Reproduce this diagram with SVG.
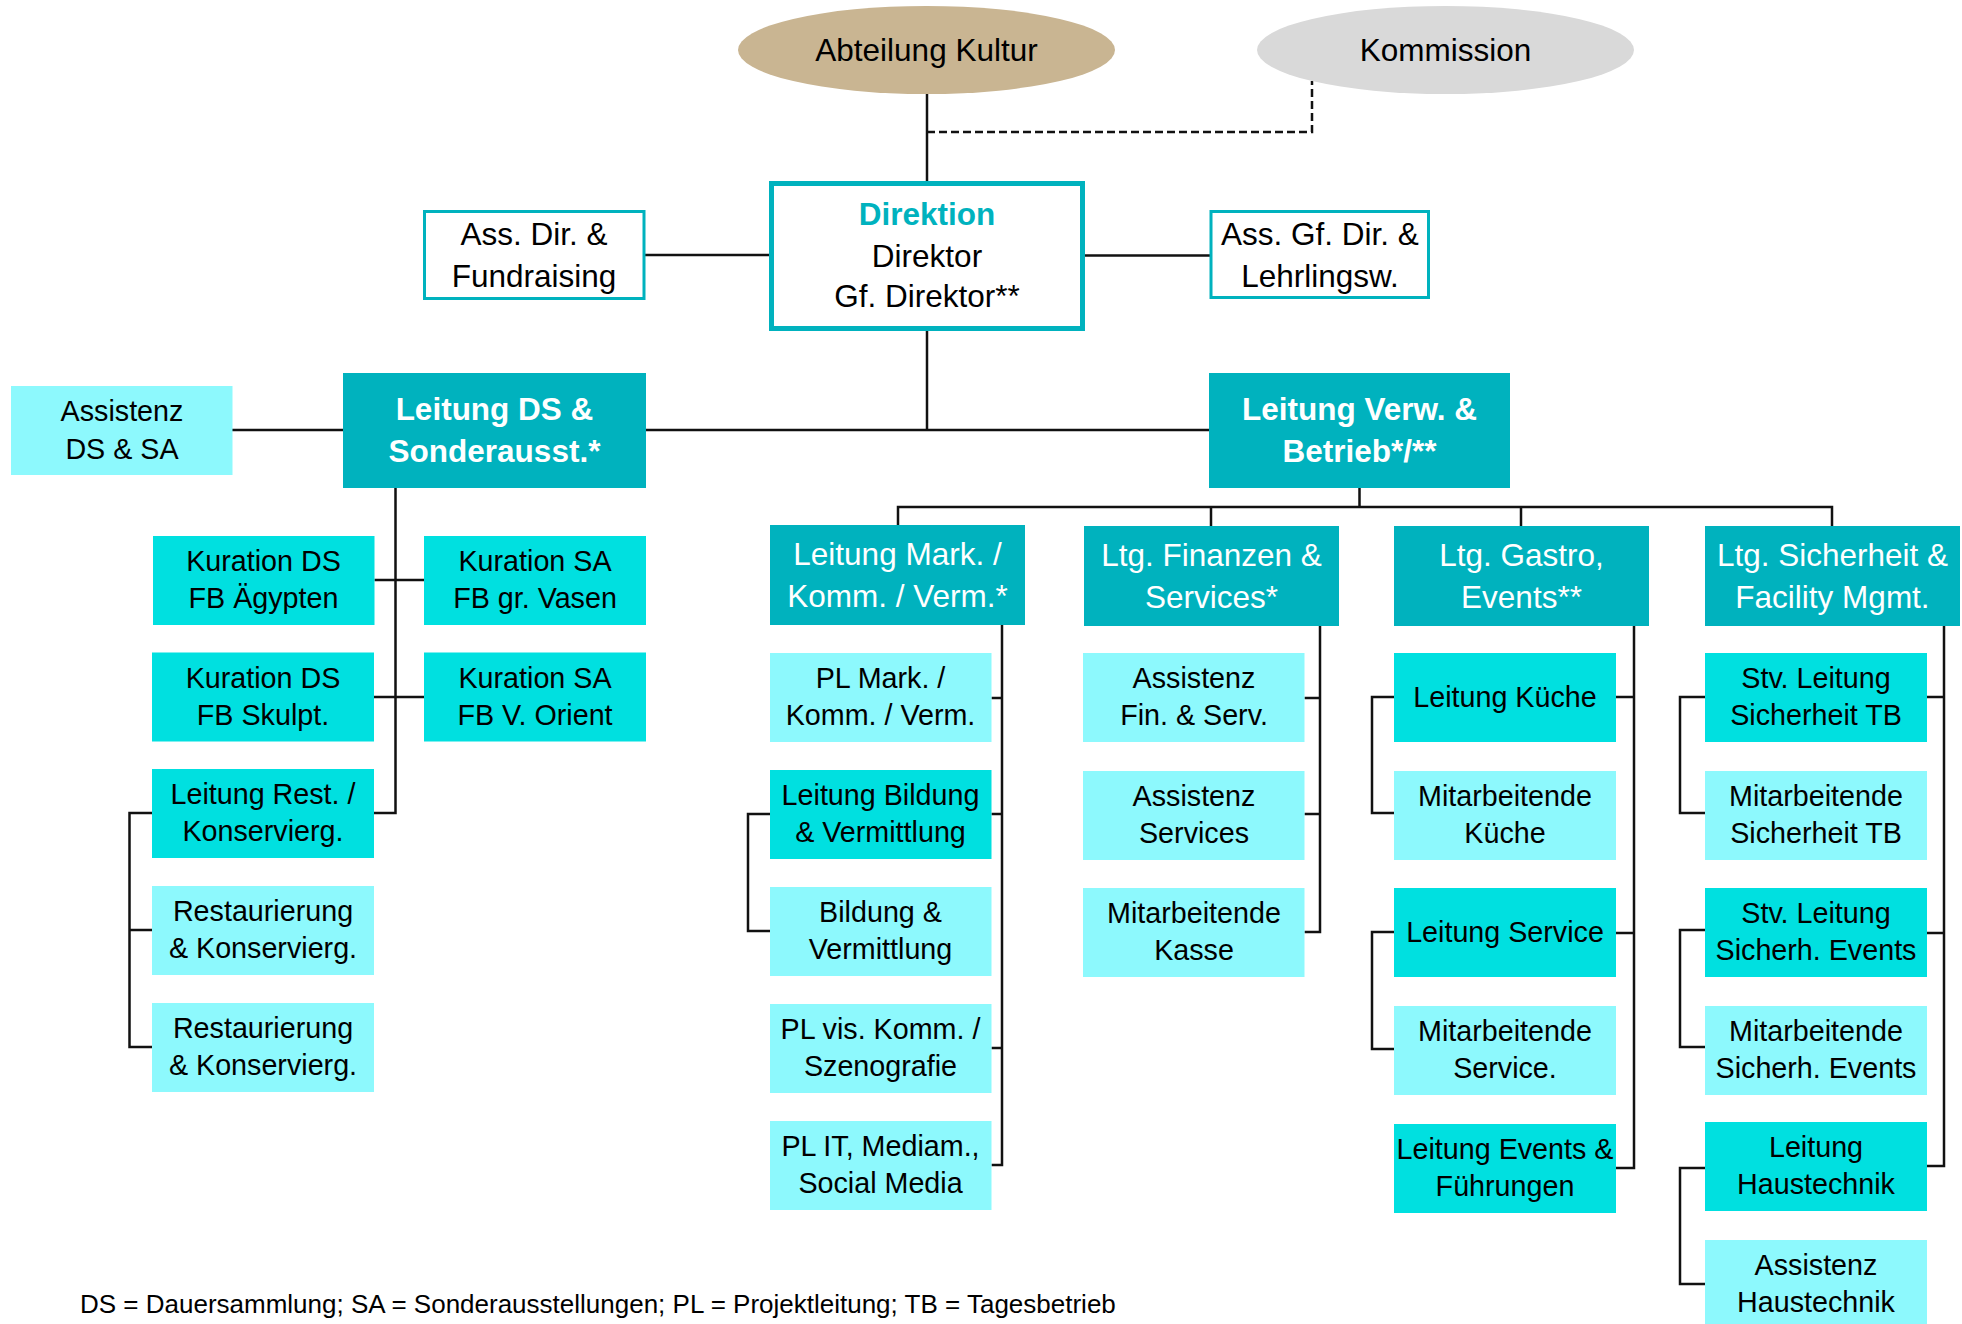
<svg xmlns="http://www.w3.org/2000/svg" width="1962" height="1324" viewBox="0 0 1962 1324">
<style>
text{font-family:"Liberation Sans",Arial,sans-serif;text-anchor:middle;fill:#000}
.h{font-size:31.5px}
.c{font-size:28.7px}
.w{fill:#fff}
.b{font-weight:bold}
.dark{fill:#00B2BE}
.med{fill:#00E0E0}
.light{fill:#8DF9FD}
.ol{fill:#fff;stroke:#00B2BE;stroke-width:3}
.ln{fill:none;stroke:#111;stroke-width:2.5}
.dash{fill:none;stroke:#111;stroke-width:2.5;stroke-dasharray:8 4}
.foot{font-size:26px;text-anchor:start}
</style>
<rect width="1962" height="1324" fill="#fff"/>
<g id="connectors">
<path class="ln" d="M927 94V181"/>
<path class="dash" d="M927 132H1312V81"/>
<path class="ln" d="M645 255H771"/>
<path class="ln" d="M1083 255.5H1211"/>
<path class="ln" d="M927 331V430"/>
<path class="ln" d="M646 430H1209"/>
<path class="ln" d="M232 430H343"/>
<path class="ln" d="M395.5 488V813H374"/>
<path class="ln" d="M374.5 580H424"/>
<path class="ln" d="M374 697H424"/>
<path class="ln" d="M152 813H129.5V1047H152M129.5 930H152"/>
<path class="ln" d="M1359.5 488V507M898 525V507H1832V526M1211 507V526M1521 507V526"/>
<path class="ln" d="M1002 625V1165H991.5M991.5 698H1002M991.5 814H1002M991.5 1048H1002"/>
<path class="ln" d="M770 814H748V931H770"/>
<path class="ln" d="M1320 626V932H1304.5M1304.5 698H1320M1304.5 814H1320"/>
<path class="ln" d="M1634 626V1168H1616M1616 697H1634M1616 933H1634"/>
<path class="ln" d="M1394 697H1372V813H1394M1394 932H1372V1049H1394"/>
<path class="ln" d="M1944 626V1166H1927M1927 697H1944M1927 933H1944"/>
<path class="ln" d="M1705 697H1680V813H1705M1705 930H1680V1047H1705M1705 1168H1680V1284H1705"/>
</g>
<g id="abteilung"><ellipse cx="926.5" cy="50" rx="188.5" ry="44" fill="#C9B592"/><text class="h" x="926.5" y="61">Abteilung Kultur</text></g>
<g id="kommission"><ellipse cx="1445.5" cy="50" rx="188.5" ry="44" fill="#D9D9D9"/><text class="h" x="1445.5" y="61">Kommission</text></g>
<g id="direktion"><rect x="771.5" y="183.5" width="311" height="145" fill="#fff" stroke="#00B2BE" stroke-width="5"/>
<text class="h b" x="927" y="225" style="fill:#00B2BE">Direktion</text><text class="h" x="927" y="267">Direktor</text><text class="h" x="927" y="307">Gf. Direktor**</text></g>
<g id="ass-dir"><rect class="ol" x="424.5" y="211.5" width="219.5" height="87"/><text class="h" x="534" y="245">Ass. Dir. &amp;</text><text class="h" x="534" y="287">Fundraising</text></g>
<g id="ass-gf"><rect class="ol" x="1211" y="211.5" width="217.5" height="86"/><text class="h" x="1320" y="245">Ass. Gf. Dir. &amp;</text><text class="h" x="1320" y="287">Lehrlingsw.</text></g>
<g id="assistenz-ds"><rect class="light" x="11" y="386" width="221.5" height="89"/><text class="c" x="122" y="421">Assistenz</text><text class="c" x="122" y="459">DS &amp; SA</text></g>
<g id="leitung-ds"><rect class="dark" x="343" y="373" width="303" height="115"/><text class="h w b" x="494.5" y="420">Leitung DS &amp;</text><text class="h w b" x="494.5" y="462">Sonderausst.*</text></g>
<g id="leitung-verw"><rect class="dark" x="1209" y="373" width="301" height="115"/><text class="h w b" x="1359.5" y="420">Leitung Verw. &amp;</text><text class="h w b" x="1359.5" y="462">Betrieb*/**</text></g>
<g id="kur-ds-1"><rect class="med" x="153" y="536" width="221.5" height="89"/><text class="c" x="263.5" y="571">Kuration DS</text><text class="c" x="263.5" y="608">FB Ägypten</text></g>
<g id="kur-sa-1"><rect class="med" x="424" y="536" width="222" height="89"/><text class="c" x="535" y="571">Kuration SA</text><text class="c" x="535" y="608">FB gr. Vasen</text></g>
<g id="kur-ds-2"><rect class="med" x="152" y="652.5" width="222" height="89"/><text class="c" x="263" y="687.5">Kuration DS</text><text class="c" x="263" y="724.5">FB Skulpt.</text></g>
<g id="kur-sa-2"><rect class="med" x="424" y="652.5" width="222" height="89"/><text class="c" x="535" y="687.5">Kuration SA</text><text class="c" x="535" y="724.5">FB V. Orient</text></g>
<g id="leitung-rest"><rect class="med" x="152" y="769" width="222" height="89"/><text class="c" x="263" y="804">Leitung Rest. /</text><text class="c" x="263" y="841">Konservierg.</text></g>
<g id="rest-1"><rect class="light" x="152" y="886" width="222" height="89"/><text class="c" x="263" y="921">Restaurierung</text><text class="c" x="263" y="958">&amp; Konservierg.</text></g>
<g id="rest-2"><rect class="light" x="152" y="1003" width="222" height="89"/><text class="c" x="263" y="1038">Restaurierung</text><text class="c" x="263" y="1075">&amp; Konservierg.</text></g>
<g id="leitung-mark"><rect class="dark" x="770" y="525" width="255" height="100"/><text class="h w" x="897.5" y="565">Leitung Mark. /</text><text class="h w" x="897.5" y="607">Komm. / Verm.*</text></g>
<g id="pl-mark"><rect class="light" x="770" y="653" width="221.5" height="89"/><text class="c" x="880.5" y="688">PL Mark. /</text><text class="c" x="880.5" y="725">Komm. / Verm.</text></g>
<g id="leitung-bildung"><rect class="med" x="770" y="770" width="221.5" height="89"/><text class="c" x="880.5" y="805">Leitung Bildung</text><text class="c" x="880.5" y="842">&amp; Vermittlung</text></g>
<g id="bildung"><rect class="light" x="770" y="887" width="221.5" height="89"/><text class="c" x="880.5" y="922">Bildung &amp;</text><text class="c" x="880.5" y="959">Vermittlung</text></g>
<g id="pl-vis"><rect class="light" x="770" y="1004" width="221.5" height="89"/><text class="c" x="880.5" y="1039">PL vis. Komm. /</text><text class="c" x="880.5" y="1076">Szenografie</text></g>
<g id="pl-it"><rect class="light" x="770" y="1121" width="221.5" height="89"/><text class="c" x="880.5" y="1156">PL IT, Mediam.,</text><text class="c" x="880.5" y="1193">Social Media</text></g>
<g id="ltg-finanzen"><rect class="dark" x="1084" y="526" width="255" height="100"/><text class="h w" x="1211.5" y="566">Ltg. Finanzen &amp;</text><text class="h w" x="1211.5" y="608">Services*</text></g>
<g id="ass-fin"><rect class="light" x="1083" y="653" width="221.5" height="89"/><text class="c" x="1194" y="688">Assistenz</text><text class="c" x="1194" y="725">Fin. &amp; Serv.</text></g>
<g id="ass-services"><rect class="light" x="1083" y="771" width="221.5" height="89"/><text class="c" x="1194" y="806">Assistenz</text><text class="c" x="1194" y="843">Services</text></g>
<g id="mit-kasse"><rect class="light" x="1083" y="888" width="221.5" height="89"/><text class="c" x="1194" y="923">Mitarbeitende</text><text class="c" x="1194" y="960">Kasse</text></g>
<g id="ltg-gastro"><rect class="dark" x="1394" y="526" width="255" height="100"/><text class="h w" x="1521.5" y="566">Ltg. Gastro,</text><text class="h w" x="1521.5" y="608">Events**</text></g>
<g id="leitung-kueche"><rect class="med" x="1394" y="653" width="222" height="89"/><text class="c" x="1505" y="707">Leitung Küche</text></g>
<g id="mit-kueche"><rect class="light" x="1394" y="771" width="222" height="89"/><text class="c" x="1505" y="806">Mitarbeitende</text><text class="c" x="1505" y="843">Küche</text></g>
<g id="leitung-service"><rect class="med" x="1394" y="888" width="222" height="89"/><text class="c" x="1505" y="942">Leitung Service</text></g>
<g id="mit-service"><rect class="light" x="1394" y="1006" width="222" height="89"/><text class="c" x="1505" y="1041">Mitarbeitende</text><text class="c" x="1505" y="1078">Service.</text></g>
<g id="leitung-events"><rect class="med" x="1394" y="1124" width="222" height="89"/><text class="c" x="1505" y="1159">Leitung Events &amp;</text><text class="c" x="1505" y="1196">Führungen</text></g>
<g id="ltg-sicherheit"><rect class="dark" x="1705" y="526" width="255" height="100"/><text class="h w" x="1832.5" y="566">Ltg. Sicherheit &amp;</text><text class="h w" x="1832.5" y="608">Facility Mgmt.</text></g>
<g id="stv-tb"><rect class="med" x="1705" y="653" width="222" height="89"/><text class="c" x="1816" y="688">Stv. Leitung</text><text class="c" x="1816" y="725">Sicherheit TB</text></g>
<g id="mit-tb"><rect class="light" x="1705" y="771" width="222" height="89"/><text class="c" x="1816" y="806">Mitarbeitende</text><text class="c" x="1816" y="843">Sicherheit TB</text></g>
<g id="stv-events"><rect class="med" x="1705" y="888" width="222" height="89"/><text class="c" x="1816" y="923">Stv. Leitung</text><text class="c" x="1816" y="960">Sicherh. Events</text></g>
<g id="mit-events"><rect class="light" x="1705" y="1006" width="222" height="89"/><text class="c" x="1816" y="1041">Mitarbeitende</text><text class="c" x="1816" y="1078">Sicherh. Events</text></g>
<g id="leitung-haustechnik"><rect class="med" x="1705" y="1122" width="222" height="89"/><text class="c" x="1816" y="1157">Leitung</text><text class="c" x="1816" y="1194">Haustechnik</text></g>
<g id="ass-haustechnik"><rect class="light" x="1705" y="1240" width="222" height="89"/><text class="c" x="1816" y="1275">Assistenz</text><text class="c" x="1816" y="1312">Haustechnik</text></g>
<text class="foot" x="80" y="1313">DS = Dauersammlung; SA = Sonderausstellungen; PL = Projektleitung; TB = Tagesbetrieb</text>
</svg>
